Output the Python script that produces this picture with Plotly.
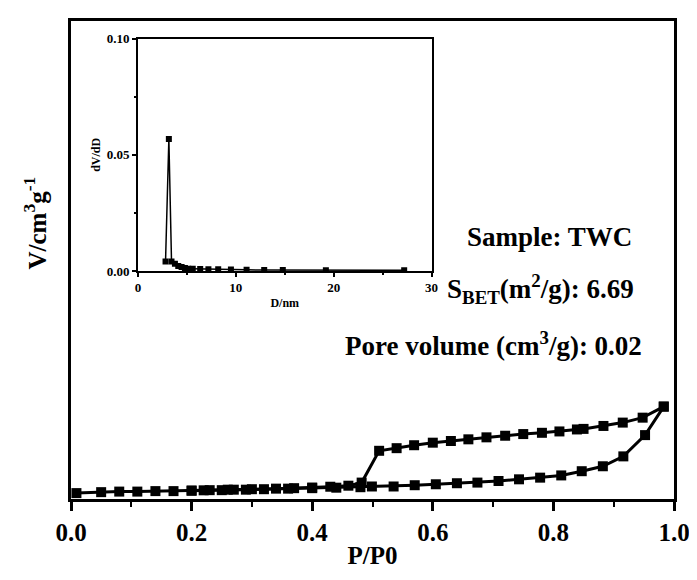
import plotly.graph_objects as go

# adsorption branch (lower), relative pressure and volume
ads_p = [0.009, 0.05, 0.08, 0.11, 0.14, 0.17, 0.20, 0.23, 0.26, 0.29, 0.32, 0.36, 0.40,
         0.44, 0.48, 0.499, 0.535, 0.57, 0.605, 0.64, 0.674, 0.709, 0.743, 0.778, 0.813,
         0.847, 0.882, 0.916, 0.952, 0.983]
ads_v = [0.74, 0.86, 0.93, 0.93, 0.99, 0.99, 1.05, 1.11, 1.17, 1.17, 1.23, 1.30, 1.36,
         1.42, 1.48, 1.57, 1.57, 1.73, 1.85, 1.98, 2.06, 2.26, 2.47, 2.68, 2.96,
         3.49, 4.11, 5.35, 8.02, 11.60]

# desorption branch (upper)
des_p = [0.983, 0.948, 0.915, 0.883, 0.850, 0.839, 0.810, 0.781, 0.750, 0.720, 0.689,
         0.659, 0.630, 0.600, 0.569, 0.540, 0.511, 0.482, 0.46, 0.43, 0.40, 0.37, 0.34,
         0.30, 0.27, 0.25, 0.22, 0.20]
des_v = [11.60, 10.21, 9.59, 9.17, 8.80, 8.73, 8.48, 8.31, 8.15, 7.94, 7.74,
         7.49, 7.28, 7.07, 6.75, 6.38, 6.05, 2.06, 1.67, 1.54, 1.44, 1.36, 1.30,
         1.23, 1.17, 1.11, 1.09, 1.05]

# pore size distribution (inset)
psd_d = [2.82, 3.16, 3.43, 3.78, 4.12, 4.46, 4.8, 5.14, 5.6, 6.36, 7.2, 8.2, 9.5,
         11.1, 12.9, 14.8, 19.2, 27.2]
psd_v = [0.0041, 0.0568, 0.0041, 0.0031, 0.0022, 0.0017, 0.0013, 0.0010, 0.0010,
         0.0009, 0.0008, 0.0007, 0.0006, 0.0005, 0.0004, 0.0004, 0.0003, 0.0003]

FONT = 'Liberation Serif'

fig = go.Figure()
fig.add_trace(go.Scatter(x=ads_p, y=ads_v, mode='lines+markers',
                         line=dict(color='black', width=3),
                         marker=dict(symbol='square', size=10, color='black')))
fig.add_trace(go.Scatter(x=des_p, y=des_v, mode='lines+markers',
                         line=dict(color='black', width=3),
                         marker=dict(symbol='square', size=10, color='black')))
fig.add_trace(go.Scatter(x=psd_d, y=psd_v, mode='lines+markers', xaxis='x2', yaxis='y2',
                         line=dict(color='black', width=1.5),
                         marker=dict(symbol='square', size=6, color='black')))

# page has an 8px body margin, so the figure is shifted by 8px
fig.update_layout(
    width=689, height=564,
    margin=dict(l=63, r=23, t=6, b=72),
    paper_bgcolor='white', plot_bgcolor='white',
    showlegend=False,
    font=dict(family=FONT, color='black'),
    xaxis=dict(range=[0, 1], dtick=0.2, tickformat='.1f', showline=True, linewidth=3,
               linecolor='black', mirror=True, ticks='outside', ticklen=9, tickwidth=2.5,
               tickcolor='black', showgrid=False, zeroline=False,
               tickfont=dict(size=25, family=FONT),
               minor=dict(dtick=0.1, ticks='outside', ticklen=5, tickwidth=2, tickcolor='black'),
               title=dict(text='<b>P/P0</b>', font=dict(size=25, family=FONT), standoff=2)),
    yaxis=dict(range=[0, 60], showline=True, linewidth=3, linecolor='black', mirror=True,
               showticklabels=False, ticks='', showgrid=False, zeroline=False),
    xaxis2=dict(domain=[0.111, 0.598], anchor='y2', range=[0, 30], dtick=10,
                showline=True, linewidth=1.5, linecolor='black', mirror=True,
                ticks='outside', ticklen=4, tickwidth=1.5, tickcolor='black',
                showgrid=False, zeroline=False, tickfont=dict(size=13, family=FONT),
                minor=dict(dtick=5, ticks='outside', ticklen=2, tickcolor='black'),
                title=dict(text='<b>D/nm</b>', font=dict(size=12, family=FONT), standoff=4)),
    yaxis2=dict(domain=[0.477, 0.963], anchor='x2', range=[0, 0.1], dtick=0.05,
                tickformat='.2f', showline=True, linewidth=1.5, linecolor='black',
                mirror=True, ticks='outside', ticklen=4, tickwidth=1.5, tickcolor='black',
                showgrid=False, zeroline=False, tickfont=dict(size=13, family=FONT),
                minor=dict(dtick=0.025, ticks='outside', ticklen=2, tickcolor='black'),
                title=dict(text='<b>dV/dD</b>', font=dict(size=12, family=FONT), standoff=4)),
)
fig.update_xaxes(tickprefix='<b>', ticksuffix='</b>')
fig.update_yaxes(tickprefix='<b>', ticksuffix='</b>')

fig.add_annotation(text='<b>V/cm<sup>3</sup>g<sup>-1</sup></b>', textangle=-90,
                   xref='paper', yref='paper', x=-0.06, y=0.578, xanchor='center',
                   yanchor='middle', showarrow=False, font=dict(size=25, family=FONT))
fig.add_annotation(text='<b>Sample: TWC</b>', xref='paper', yref='paper', x=0.793, y=0.549,
                   xanchor='center', yanchor='middle', showarrow=False,
                   font=dict(size=27, family=FONT))
fig.add_annotation(text='<b>S<sub>BET</sub>(m<sup>2</sup>/g): 6.69</b>', xref='paper',
                   yref='paper', x=0.778, y=0.44, xanchor='center', yanchor='middle',
                   showarrow=False, font=dict(size=27, family=FONT))
fig.add_annotation(text='<b>Pore volume (cm<sup>3</sup>/g): 0.02</b>', xref='paper',
                   yref='paper', x=0.70, y=0.325, xanchor='center', yanchor='middle',
                   showarrow=False, font=dict(size=27, family=FONT))

fig.write_html('out.html')
